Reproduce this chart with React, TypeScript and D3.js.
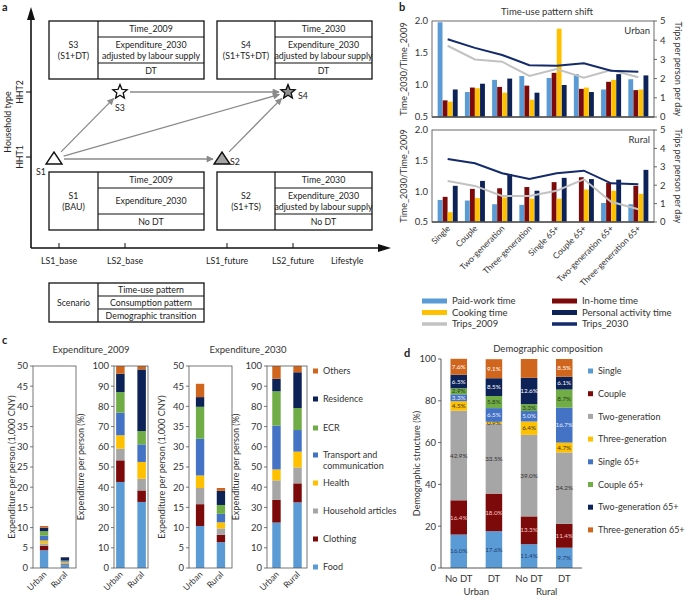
import React from 'react';
import * as d3 from 'd3';

const FONT = 'Lato, "Open Sans", sans-serif';
const INK = '#333';

// colours shared by the panels
const C_LIGHTBLUE = '#5b9bd5';
const C_DARKRED = '#7d0a0a';
const C_GRAY = '#a6a6a6';
const C_YELLOW = '#ffc000';
const C_BLUE = '#4472c4';
const C_GREEN = '#70ad47';
const C_NAVY = '#0d2257';
const C_ORANGE = '#d0661e';

// ---- panel a: scenario design ----
const lifestyles = ['LS1_base', 'LS2_base', 'LS1_future', 'LS2_future'];
const householdTypes = ['HHT1', 'HHT2'];
const scenarioPoints = [
  { id: 'S1', ls: 'LS1_base', hht: 'HHT1', shape: 'triangle', fill: '#fff' },
  { id: 'S2', ls: 'LS1_future', hht: 'HHT1', shape: 'triangle', fill: '#a3a3a3' },
  { id: 'S3', ls: 'LS2_base', hht: 'HHT2', shape: 'star', fill: '#fff' },
  { id: 'S4', ls: 'LS2_future', hht: 'HHT2', shape: 'star', fill: '#8f8f8f' },
];
const scenarioLinks = [['S1', 'S3'], ['S1', 'S4'], ['S1', 'S2'], ['S3', 'S4'], ['S2', 'S4']];
const scenarioBoxes = [
  { id: 'S3', col: 'LS1_base', row: 'HHT2', name: ['S3', '(S1+DT)'], rows: [['Time_2009'], ['Expenditure_2030', 'adjusted by labour supply'], ['DT']] },
  { id: 'S4', col: 'LS1_future', row: 'HHT2', name: ['S4', '(S1+TS+DT)'], rows: [['Time_2030'], ['Expenditure_2030', 'adjusted by labour supply'], ['DT']] },
  { id: 'S1', col: 'LS1_base', row: 'HHT1', name: ['S1', '(BAU)'], rows: [['Time_2009'], ['Expenditure_2030'], ['No DT']] },
  { id: 'S2', col: 'LS1_future', row: 'HHT1', name: ['S2', '(S1+TS)'], rows: [['Time_2030'], ['Expenditure_2030', 'adjusted by labour supply'], ['No DT']] },
];
const legendRows = ['Time-use pattern', 'Consumption pattern', 'Demographic transition'];

// ---- panel b: time-use pattern shift ----
const timeCats = ['Single', 'Couple', 'Two-generation', 'Three-generation', 'Single 65+', 'Couple 65+', 'Two-generation 65+', 'Three-generation 65+'];
const urbanPaidWork = [1.98, 0.89, 1.08, 1.14, 1.11, 1.17, 0.93, 1.09];
const urbanInHome = [0.76, 0.96, 0.97, 0.99, 1.19, 0.94, 1.05, 0.92];
const urbanCooking = [0.74, 0.95, 0.88, 0.77, 1.88, 0.96, 1.08, 0.93];
const urbanPersonal = [0.93, 1.02, 1.10, 0.88, 1.00, 0.89, 1.17, 1.15];
const urbanTrips2009 = [3.71, 3.0, 2.88, 2.14, 2.5, 2.05, 2.45, 2.07];
const urbanTrips2030 = [4.05, 3.6, 3.23, 2.7, 2.67, 2.8, 2.41, 2.36];
const ruralPaidWork = [0.86, 0.85, 0.79, 0.78, null, null, 0.81, 0.79];
const ruralInHome = [0.91, 1.04, 1.05, 1.07, 1.15, 1.23, 1.14, 1.09];
const ruralCooking = [0.66, 0.89, 0.90, 0.88, 0.88, 1.03, 1.01, 0.96];
const ruralPersonal = [1.09, 1.17, 1.28, 1.01, 1.22, 1.20, 1.19, 1.35];
const ruralTrips2009 = [2.23, 1.96, 1.41, 1.41, 1.7, 2.32, 1.1, 0.69];
const ruralTrips2030 = [3.42, 3.19, 2.65, 2.34, 2.65, 2.79, 2.1, 2.05];
const timeSeries = ['Paid-work time', 'In-home time', 'Cooking time', 'Personal activity time'];
const timeColors = [C_LIGHTBLUE, C_DARKRED, C_YELLOW, C_NAVY];
const trips2009Color = '#c2c2c2';
const trips2030Color = '#132a6b';

// ---- panel c: expenditure ----
const expCats = ['Food', 'Clothing', 'Household articles', 'Health', 'Transport and communication', 'ECR', 'Residence', 'Others'];
const expColors = [C_LIGHTBLUE, C_DARKRED, C_GRAY, C_YELLOW, C_BLUE, C_GREEN, C_NAVY, C_ORANGE];
const areas = ['Urban', 'Rural'];
const exp2009Urban = [4.4, 1.1, 0.6, 0.7, 1.2, 1.1, 0.9, 0.4];
const exp2009Rural = [0.9, 0.15, 0.16, 0.22, 0.23, 0.18, 0.82, 0.05];
const share2009Urban = [42.6, 10.7, 5.8, 6.6, 11.2, 10.2, 9.1, 3.8];
const share2009Rural = [32.7, 5.7, 5.8, 8.3, 8.7, 6.6, 30.5, 1.7];
const exp2030Urban = [10.4, 5.4, 4.0, 3.1, 9.1, 7.9, 2.4, 3.3];
const exp2030Rural = [6.4, 1.8, 1.6, 1.5, 2.1, 2.2, 3.5, 0.7];
const share2030Urban = [22.5, 11.2, 9.7, 5.4, 21.7, 17.0, 6.2, 6.3];
const share2030Rural = [32.5, 9.4, 7.9, 7.8, 10.7, 10.9, 17.7, 3.1];

// ---- panel d: demographic composition ----
const demoCats = ['Single', 'Couple', 'Two-generation', 'Three-generation', 'Single 65+', 'Couple 65+', 'Two-generation 65+', 'Three-generation 65+'];
const demoColors = [C_LIGHTBLUE, C_DARKRED, C_GRAY, C_YELLOW, C_BLUE, C_GREEN, C_NAVY, C_ORANGE];
const demoTextColors = ['#1d3d70', '#f2c4c4', '#333', '#333', '#e8eefa', '#2a3a1a', '#fff', '#fff'];
const demoBars = ['Urban No DT', 'Urban DT', 'Rural No DT', 'Rural DT'];
const demoBarLabels = ['No DT', 'DT', 'No DT', 'DT'];
const demoUrbanNoDT = [16.0, 16.4, 42.9, 4.5, 3.3, 2.9, 6.5, 7.6];
const demoUrbanDT = [17.6, 18.0, 33.5, 0.9, 6.5, 5.8, 8.5, 9.1];
const demoRuralNoDT = [11.4, 13.3, 39.0, 6.4, 5.0, 3.3, 12.6, 9.0];
const demoRuralDT = [9.7, 11.4, 34.2, 4.7, 16.7, 8.7, 6.1, 8.5];
const demoUnlabelled = ['Rural No DT|Three-generation 65+'];

function starPath(cx: number, cy: number, R: number, r: number) {
  const pts: string[] = [];
  for (let i = 0; i < 10; i++) {
    const a = -Math.PI / 2 + (i * Math.PI) / 5;
    const rad = i % 2 === 0 ? R : r;
    pts.push(`${cx + rad * Math.cos(a)},${cy + rad * Math.sin(a)}`);
  }
  return 'M' + pts.join('L') + 'Z';
}

function PanelA() {
  const xLs = d3.scaleOrdinal<string, number>().domain(lifestyles).range([59, 125, 227, 293]);
  const yHht = d3.scaleOrdinal<string, number>().domain(householdTypes).range([157, 92]);
  const axisX = 31, axisY = 248;
  const pos = (id: string) => {
    const p = scenarioPoints.find(s => s.id === id)!;
    return { x: xLs(p.ls) - 5, y: yHht(p.hht) + (p.shape === 'triangle' ? 2 : 0) };
  };
  const boxW = 155;
  const fs = 8.8;
  return (
    <g fontFamily={FONT} fill="#222">
      <text x={2} y={11} fontSize={11} fontWeight="bold">a</text>
      {/* axes */}
      <line x1={axisX} y1={axisY} x2={axisX} y2={18} stroke="#111" strokeWidth={1.6} />
      <path d={`M${axisX - 4},${20} L${axisX},${7} L${axisX + 4},${20}Z`} fill="#111" />
      <line x1={axisX} y1={axisY} x2={380} y2={axisY} stroke="#111" strokeWidth={1.6} />
      <path d={`M${378},${axisY - 4} L${391},${axisY} L${378},${axisY + 4}Z`} fill="#111" />
      {householdTypes.map(h => (
        <g key={h}>
          <line x1={axisX - 5} x2={axisX} y1={yHht(h)} y2={yHht(h)} stroke="#111" strokeWidth={1} />
          <text transform={`translate(${23},${yHht(h)}) rotate(-90)`} textAnchor="middle" fontSize={fs}>{h}</text>
        </g>
      ))}
      <text transform={`translate(${11},${122}) rotate(-90)`} textAnchor="middle" fontSize={fs}>Household type</text>
      {lifestyles.map(l => (
        <g key={l}>
          <line x1={xLs(l)} x2={xLs(l)} y1={axisY - 5} y2={axisY} stroke="#111" strokeWidth={1} />
          <text x={xLs(l)} y={axisY + 16} textAnchor="middle" fontSize={fs}>{l}</text>
        </g>
      ))}
      <text x={331} y={axisY + 16} fontSize={fs}>Lifestyle</text>
      {/* boxes */}
      {scenarioBoxes.map(b => {
        const x = xLs(b.col) - 10;
        const top = b.row === 'HHT2' ? 21 : 172;
        const leftW = b.col === 'LS1_base' ? 49 : 58;
        const hs = [16, 26, 16];
        const ys = [top, top + hs[0], top + hs[0] + hs[1], top + hs[0] + hs[1] + hs[2]];
        const cx = x + leftW + (boxW - leftW) / 2;
        return (
          <g key={b.id}>
            <rect x={x} y={top} width={boxW} height={ys[3] - top} fill="none" stroke="#111" strokeWidth={1.3} />
            <line x1={x + leftW} x2={x + leftW} y1={top} y2={ys[3]} stroke="#111" strokeWidth={1.2} />
            <line x1={x + leftW} x2={x + boxW} y1={ys[1]} y2={ys[1]} stroke="#111" strokeWidth={1.2} />
            <line x1={x + leftW} x2={x + boxW} y1={ys[2]} y2={ys[2]} stroke="#111" strokeWidth={1.2} />
            {b.name.map((t, i) => (
              <text key={i} x={x + leftW / 2} y={(top + ys[3]) / 2 - 5 + i * 11 + 3} textAnchor="middle" fontSize={fs}>{t}</text>
            ))}
            {b.rows.map((r, ri) => r.map((t, i) => (
              <text key={ri + '-' + i} x={cx} y={(ys[ri] + ys[ri + 1]) / 2 + 3.2 - (r.length - 1) * 5.5 + i * 11} textAnchor="middle" fontSize={fs}>{t}</text>
            )))}
          </g>
        );
      })}
      {/* arrows */}
      {scenarioLinks.map(([s, t]) => {
        const p = pos(s), q = pos(t);
        const dx = q.x - p.x, dy = q.y - p.y, len = Math.hypot(dx, dy);
        const ux = dx / len, uy = dy / len;
        const x1 = p.x + ux * 10, y1 = p.y + uy * 10, x2 = q.x - ux * 9, y2 = q.y - uy * 9;
        return <line key={s + t} x1={x1} y1={y1} x2={x2} y2={y2} stroke="#8a8a8a" strokeWidth={1.3} markerEnd="url(#arrGray)" />;
      })}
      {scenarioPoints.map(s => {
        const p = pos(s.id);
        return (
          <g key={s.id}>
            {s.shape === 'triangle'
              ? <path d={`M${p.x - 8},${p.y + 5} L${p.x + 8},${p.y + 5} L${p.x},${p.y - 7}Z`} fill={s.fill} stroke="#111" strokeWidth={1.4} />
              : <path d={starPath(p.x, p.y, 7.5, 3.3)} fill={s.fill} stroke="#111" strokeWidth={1.3} />}
          </g>
        );
      })}
      <text x={pos('S1').x - 18} y={pos('S1').y + 16} fontSize={fs}>S1</text>
      <text x={pos('S2').x + 8} y={pos('S2').y + 6} fontSize={fs}>S2</text>
      <text x={pos('S3').x} y={pos('S3').y + 19} textAnchor="middle" fontSize={fs}>S3</text>
      <text x={pos('S4').x + 10} y={pos('S4').y + 7} fontSize={fs}>S4</text>
      {/* scenario legend */}
      <g>
        <rect x={49} y={283} width={155} height={39} fill="none" stroke="#111" strokeWidth={1.3} />
        <line x1={98} x2={98} y1={283} y2={322} stroke="#111" strokeWidth={1.2} />
        <line x1={98} x2={204} y1={296} y2={296} stroke="#111" strokeWidth={1.2} />
        <line x1={98} x2={204} y1={309} y2={309} stroke="#111" strokeWidth={1.2} />
        <text x={73.5} y={305.5} textAnchor="middle" fontSize={fs}>Scenario</text>
        {legendRows.map((t, i) => (
          <text key={t} x={151} y={293 + i * 13} textAnchor="middle" fontSize={fs}>{t}</text>
        ))}
      </g>
    </g>
  );
}

function TimeUse({ top, bottom, series, trips2009, trips2030, label, showCats }: any) {
  const left = 432, right = 654;
  const x0 = d3.scaleBand<string>().domain(timeCats).range([left, right]).paddingInner(0.25).paddingOuter(0.2);
  const x1 = d3.scaleBand<string>().domain(timeSeries).range([0, x0.bandwidth()]).padding(0.04);
  const y = d3.scaleLinear().domain([0.5, 2]).range([bottom, top]);
  const yR = d3.scaleLinear().domain([0, 5]).range([bottom, top]);
  const cx = (i: number) => x0(timeCats[i])! + x0.bandwidth() / 2;
  const line = d3.line<number>().x((_, i) => cx(i)).y(d => yR(d));
  const mid = (top + bottom) / 2;
  return (
    <g fontFamily={FONT}>
      {series.map((vals: (number | null)[], si: number) => vals.map((v, i) => v == null ? null : (
        <rect key={si + '-' + i} x={x0(timeCats[i])! + x1(timeSeries[si])!} width={x1.bandwidth()}
          y={y(v)} height={y(0.5) - y(v)} fill={timeColors[si]} />
      )))}
      <path d={line(trips2009)!} fill="none" stroke={trips2009Color} strokeWidth={2} />
      <path d={line(trips2030)!} fill="none" stroke={trips2030Color} strokeWidth={2} />
      <rect x={left} y={top} width={right - left} height={bottom - top} fill="none" stroke="#444" strokeWidth={0.8} />
      <line x1={left} x2={right} y1={bottom} y2={bottom} stroke="#555" strokeWidth={1.6} />
      {y.ticks(3).map(t => (
        <text key={t} x={left - 4} y={y(t)} dy="0.35em" textAnchor="end" fontSize={9.5} fill={INK}>{d3.format('.1f')(t)}</text>
      ))}
      {yR.ticks(5).map(t => (
        <g key={t}>
          <line x1={right} x2={right + 3} y1={yR(t)} y2={yR(t)} stroke="#444" strokeWidth={0.8} />
          <text x={right + 6} y={yR(t)} dy="0.35em" fontSize={9.5} fill={INK}>{t}</text>
        </g>
      ))}
      <text x={right - 4} y={top + 13} textAnchor="end" fontSize={9.5} fill={INK}>{label}</text>
      <text transform={`translate(${407},${mid}) rotate(-90)`} textAnchor="middle" fontSize={9} fill={INK}>Time_2030/Time_2009</text>
      <text transform={`translate(${675},${mid}) rotate(90)`} textAnchor="middle" fontSize={9} fill={INK}>Trips per person per day</text>
      {showCats && timeCats.map((c, i) => (
        <text key={c} transform={`translate(${cx(i) + 3},${bottom + 7}) rotate(-45)`} textAnchor="end" fontSize={8.5} fill={INK}>{c}</text>
      ))}
    </g>
  );
}

function PanelB() {
  const legend = [
    { label: 'Paid-work time', color: C_LIGHTBLUE, h: 5 },
    { label: 'In-home time', color: C_DARKRED, h: 5 },
    { label: 'Cooking time', color: C_YELLOW, h: 5 },
    { label: 'Personal activity time', color: C_NAVY, h: 5 },
    { label: 'Trips_2009', color: trips2009Color, h: 3.5 },
    { label: 'Trips_2030', color: trips2030Color, h: 3.5 },
  ];
  return (
    <g fontFamily={FONT}>
      <text x={399} y={11} fontSize={11} fontWeight="bold" fill="#222">b</text>
      <text x={547} y={15} textAnchor="middle" fontSize={9.5} fill={INK}>Time-use pattern shift</text>
      <TimeUse top={21} bottom={117} label="Urban" showCats={false}
        series={[urbanPaidWork, urbanInHome, urbanCooking, urbanPersonal]} trips2009={urbanTrips2009} trips2030={urbanTrips2030} />
      <TimeUse top={130} bottom={222} label="Rural" showCats={true}
        series={[ruralPaidWork, ruralInHome, ruralCooking, ruralPersonal]} trips2009={ruralTrips2009} trips2030={ruralTrips2030} />
      {legend.map((l, i) => {
        const col = i % 2, row = Math.floor(i / 2);
        const x = col === 0 ? 422 : 552;
        const yy = 301 + row * 11.5;
        return (
          <g key={l.label}>
            <rect x={x} y={yy - l.h / 2} width={25} height={l.h} fill={l.color} />
            <text x={x + 30} y={yy} dy="0.35em" fontSize={9.5} fill={INK}>{l.label}</text>
          </g>
        );
      })}
    </g>
  );
}

function ExpChart({ left, right, max, step, urban, rural, yLabel, po, labelX }: any) {
  const top = 366, bottom = 568;
  const y = d3.scaleLinear().domain([0, max]).range([bottom, top]);
  const x = d3.scaleBand<string>().domain(areas).range([left, right]).paddingInner(0.6).paddingOuter(po);
  const rows = areas.map((a, ai) => {
    const vals = ai === 0 ? urban : rural;
    const o: any = { area: a };
    expCats.forEach((c, i) => { o[c] = vals[i]; });
    return o;
  });
  const stacked = d3.stack<any>().keys(expCats)(rows);
  return (
    <g fontFamily={FONT}>
      {stacked.map((layer, li) => layer.map(seg => (
        <rect key={li + seg.data.area} x={x(seg.data.area)} width={x.bandwidth()} y={y(seg[1])} height={y(seg[0]) - y(seg[1])} fill={expColors[li]} />
      )))}
      <rect x={left} y={top} width={right - left} height={bottom - top} fill="none" stroke="#555" strokeWidth={0.8} />
      {d3.range(0, max + 0.001, step).map(t => (
        <g key={t}>
          <line x1={left - 3} x2={left} y1={y(t)} y2={y(t)} stroke="#555" strokeWidth={0.8} />
          <text x={left - 5} y={y(t)} dy="0.35em" textAnchor="end" fontSize={9.5} fill={INK}>{t}</text>
        </g>
      ))}
      {areas.map(a => (
        <text key={a} transform={`translate(${x(a)! + x.bandwidth() / 2 + 3},${bottom + 7}) rotate(-45)`} textAnchor="end" fontSize={8.5} fill={INK}>{a}</text>
      ))}
      <text transform={`translate(${labelX},${(top + bottom) / 2}) rotate(-90)`} textAnchor="middle" fontSize={9} fill={INK}>{yLabel}</text>
    </g>
  );
}

function PanelC() {
  const legendY = [371, 399, 428, 455, 483, 511, 539, 567];
  return (
    <g fontFamily={FONT}>
      <text x={2} y={344} fontSize={11} fontWeight="bold" fill="#222">c</text>
      <text x={91} y={353} textAnchor="middle" fontSize={9.5} fill={INK}>Expenditure_2009</text>
      <text x={248} y={353} textAnchor="middle" fontSize={9.5} fill={INK}>Expenditure_2030</text>
      <ExpChart left={33} right={76} max={50} step={5} urban={exp2009Urban} rural={exp2009Rural} po={0.33} labelX={15} yLabel="Expenditure per person (1,000 CNY)" />
      <ExpChart left={114} right={148} max={100} step={10} urban={share2009Urban} rural={share2009Rural} po={0.1} labelX={84} yLabel="Expenditure per person (%)" />
      <ExpChart left={189} right={232} max={50} step={5} urban={exp2030Urban} rural={exp2030Rural} po={0.33} labelX={165} yLabel="Expenditure per person (1,000 CNY)" />
      <ExpChart left={267} right={307} max={100} step={10} urban={share2030Urban} rural={share2030Rural} po={0.25} labelX={239} yLabel="Expenditure per person (%)" />
      {expCats.slice().reverse().map((c, i) => {
        const ci = expCats.length - 1 - i;
        const lines = c === 'Transport and communication' ? ['Transport and', 'communication'] : [c];
        return (
          <g key={c}>
            <rect x={313} y={legendY[i] - 2.5} width={5} height={5} fill={expColors[ci]} />
            {lines.map((t, k) => (
              <text key={k} x={323} y={legendY[i] + k * 10.5} dy="0.35em" fontSize={9} fill={INK}>{t}</text>
            ))}
          </g>
        );
      })}
    </g>
  );
}

function PanelD() {
  const left = 441, right = 582, top = 359, bottom = 568;
  const y = d3.scaleLinear().domain([0, 100]).range([bottom, top]);
  const x = d3.scaleBand<string>().domain(demoBars).range([left, right]).paddingInner(0.53).paddingOuter(0.27);
  const series = [demoUrbanNoDT, demoUrbanDT, demoRuralNoDT, demoRuralDT];
  const rows = demoBars.map((b, bi) => {
    const o: any = { bar: b };
    demoCats.forEach((c, i) => { o[c] = series[bi][i]; });
    return o;
  });
  const stacked = d3.stack<any>().keys(demoCats)(rows);
  const cx = (b: string) => x(b)! + x.bandwidth() / 2;
  const legendY = d3.range(8).map(i => 371 + i * 22.7);
  return (
    <g fontFamily={FONT}>
      <text x={404} y={357} fontSize={11} fontWeight="bold" fill="#222">d</text>
      <text x={548} y={352} textAnchor="middle" fontSize={9.5} fill={INK}>Demographic composition</text>
      {stacked.map((layer, li) => layer.map(seg => (
        <g key={li + seg.data.bar}>
          <rect x={x(seg.data.bar)} width={x.bandwidth()} y={y(seg[1])} height={y(seg[0]) - y(seg[1])} fill={demoColors[li]} />
          {!demoUnlabelled.includes(seg.data.bar + '|' + demoCats[li]) && (
            <text x={cx(seg.data.bar)} y={(y(seg[0]) + y(seg[1])) / 2} dy="0.35em" textAnchor="middle" fontSize={6.3} fill={demoTextColors[li]}>
              {d3.format('.1f')(seg[1] - seg[0])}%
            </text>
          )}
        </g>
      )))}
      <line x1={left} x2={left} y1={top} y2={bottom} stroke="#444" strokeWidth={0.9} />
      <line x1={left} x2={right} y1={bottom} y2={bottom} stroke="#444" strokeWidth={0.9} />
      {y.ticks(5).map(t => (
        <g key={t}>
          <line x1={left - 3} x2={left} y1={y(t)} y2={y(t)} stroke="#444" strokeWidth={0.8} />
          <text x={left - 5} y={y(t)} dy="0.35em" textAnchor="end" fontSize={9.5} fill={INK}>{t}</text>
        </g>
      ))}
      <text transform={`translate(${420},${(top + bottom) / 2}) rotate(-90)`} textAnchor="middle" fontSize={9} fill={INK}>Demographic structure (%)</text>
      {demoBars.map((b, i) => (
        <text key={b} x={cx(b)} y={582} textAnchor="middle" fontSize={9.5} fill={INK}>{demoBarLabels[i]}</text>
      ))}
      <text x={(cx(demoBars[0]) + cx(demoBars[1])) / 2} y={595} textAnchor="middle" fontSize={9.5} fill={INK}>Urban</text>
      <text x={(cx(demoBars[2]) + cx(demoBars[3])) / 2} y={595} textAnchor="middle" fontSize={9.5} fill={INK}>Rural</text>
      {demoCats.map((c, i) => (
        <g key={c}>
          <rect x={588} y={legendY[i] - 2.5} width={5} height={5} fill={demoColors[i]} />
          <text x={598} y={legendY[i]} dy="0.35em" fontSize={9} fill={INK}>{c}</text>
        </g>
      ))}
    </g>
  );
}

export default function App() {
  return (
    <svg width={685} height={598} style={{ position: 'absolute', left: 0, top: 0, background: '#fff' }}>
      <defs>
        <marker id="arrGray" viewBox="0 0 10 10" refX="9" refY="5" markerWidth="9" markerHeight="7" markerUnits="userSpaceOnUse" orient="auto">
          <path d="M0,0 L10,5 L0,10z" fill="#8a8a8a" />
        </marker>
      </defs>
      <rect width={685} height={598} fill="#fff" />
      <PanelA />
      <PanelB />
      <PanelC />
      <PanelD />
    </svg>
  );
}
